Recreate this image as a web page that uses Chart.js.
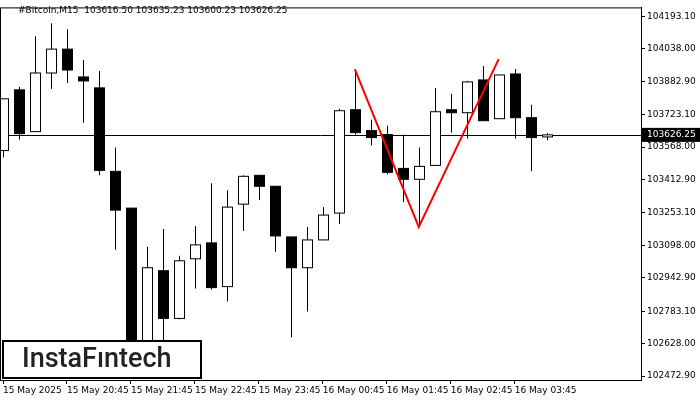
<!DOCTYPE html>
<html>
<head>
<meta charset="utf-8">
<script src="https://cdn.jsdelivr.net/npm/chart.js@4/dist/chart.umd.min.js"></script>
<style>
  body { margin: 0; background: #fff; }
</style>
</head>
<body>
<canvas id="grafico" width="700" height="400"></canvas>
<script>
// =====================
// DATOS (OHLC)
// =====================
const opens  = [103551.6, 103841.5, 103641.9, 103922.2, 104036.3, 103903.2, 103851.0, 103451.8, 103276.0, 102572.7,
                102976.6, 102748.5, 103033.6, 103109.6, 102900.6, 103295.0, 103432.8, 103380.5, 103138.2, 102990.8,
                103123.9, 103252.2, 103746.4, 103646.6, 103627.6, 103466.0, 103413.8, 103480.3, 103746.4, 103732.2,
                103889.0, 103703.6, 103917.5, 103708.4, 103616.5];
const highs  = [103798.7, 103855.7, 104098.0, 104159.8, 104131.3, 103984.0, 103931.7, 103565.8, 103276.0, 103090.6,
                103176.2, 103047.9, 103190.4, 103394.8, 103361.5, 103432.8, 103432.8, 103380.5, 103138.2, 103185.7,
                103280.7, 103751.2, 103941.2, 103698.9, 103670.4, 103627.6, 103565.8, 103851.0, 103822.4, 103884.2,
                103955.5, 103912.7, 103941.2, 103770.2, 103635.23];
const lows   = [103518.3, 103603.9, 103641.9, 103846.2, 103874.7, 103684.6, 103432.8, 103076.4, 102477.6, 102501.4,
                102620.2, 102743.7, 102891.1, 102886.3, 102829.3, 103166.7, 103314.0, 103066.9, 102658.2, 102781.8,
                103166.7, 103199.9, 103627.6, 103575.3, 103437.5, 103304.5, 103185.7, 103480.3, 103637.1, 103608.6,
                103694.1, 103703.6, 103608.6, 103451.8, 103600.23];
const closes = [103798.7, 103632.4, 103922.2, 104036.3, 103936.5, 103884.2, 103456.5, 103266.5, 102525.1, 102990.8,
                102748.5, 103024.1, 103100.1, 102895.8, 103280.7, 103428.0, 103380.5, 103142.9, 102990.8, 103123.9,
                103242.7, 103741.7, 103637.1, 103613.4, 103447.0, 103413.8, 103475.5, 103736.9, 103732.2, 103879.5,
                103694.1, 103912.7, 103708.4, 103613.4, 103626.25];

const fechas = ["15 May 2025", "15 May 20:45", "15 May 21:45", "15 May 22:45", "15 May 23:45",
                "16 May 00:45", "16 May 01:45", "16 May 02:45", "16 May 03:45"];
const fechaIdx = [0, 4, 8, 12, 16, 20, 24, 28, 32];

const precios = [104193.10, 104038.00, 103882.90, 103723.10, 103568.00, 103412.90,
                 103253.10, 103098.00, 102942.90, 102783.10, 102628.00, 102472.90];

// patrón doble techo (línea roja)
const patronX = [22, 26, 31];
const patronY = [103941.2, 103185.7, 103988.8];

const precioActual = 103626.25;
const titulo = "#Bitcoin,M15  103616.50 103635.23 103600.23 103626.25";

const FAM = "'DejaVu Sans', sans-serif";
const FONT = "9px " + FAM;

// =====================
// PLUGIN VELAS
// =====================
const velas = {
  id: "velas",
  beforeDatasetsDraw(chart) {
    const { ctx, scales: { x, y }, chartArea: a } = chart;
    ctx.save();
    ctx.beginPath();
    ctx.rect(a.left, a.top, a.right - a.left, a.bottom - a.top);
    ctx.clip();

    // línea de precio actual
    const py = Math.round(y.getPixelForValue(precioActual)) + 0.5;
    ctx.strokeStyle = "#000";
    ctx.lineWidth = 1;
    ctx.beginPath();
    ctx.moveTo(a.left, py);
    ctx.lineTo(a.right, py);
    ctx.stroke();

    opens.forEach((o, i) => {
      const cx = Math.round(x.getPixelForValue(i)) + 0.5;
      const yo = y.getPixelForValue(o), yc = y.getPixelForValue(closes[i]);
      const yh = y.getPixelForValue(highs[i]), yl = y.getPixelForValue(lows[i]);
      ctx.beginPath();
      ctx.moveTo(cx, yh);
      ctx.lineTo(cx, yl);
      ctx.stroke();
      const top = Math.min(yo, yc), h = Math.max(Math.abs(yo - yc), 1);
      ctx.fillStyle = closes[i] >= o ? "#fff" : "#000";
      ctx.fillRect(cx - 5, top, 10, h);
      ctx.strokeRect(cx - 5, top, 10, h);
    });
    ctx.restore();
  },
  afterDraw(chart) {
    const { ctx, scales: { y }, chartArea: a } = chart;
    ctx.save();
    ctx.strokeStyle = "#000";
    ctx.lineWidth = 1;
    ctx.strokeRect(a.left + 0.5, a.top + 0.5, a.right - a.left, a.bottom - a.top);

    ctx.font = FONT;
    ctx.fillStyle = "#000";
    ctx.textBaseline = "middle";
    ctx.fillText(titulo, 18, 11);

    // etiqueta precio actual
    const py = y.getPixelForValue(precioActual);
    ctx.fillRect(a.right + 1, py - 7, 58, 14);
    ctx.fillStyle = "#fff";
    ctx.fillText(precioActual.toFixed(2), a.right + 6, py);

    // logo
    ctx.fillStyle = "#fff";
    ctx.fillRect(3, 341, 198, 37);
    ctx.lineWidth = 2;
    ctx.strokeRect(3, 341, 198, 37);
    ctx.fillStyle = "#222";
    ctx.font = "500 27px Roboto, sans-serif";
    ctx.fillText("InstaFıntech", 22, 360);
    ctx.restore();
  }
};

// =====================
// GRÁFICO
// =====================
new Chart(document.getElementById("grafico"), {
  type: "line",
  data: {
    datasets: [{
      data: patronX.map((v, i) => ({ x: v, y: patronY[i] })),
      borderColor: "#ff0000",
      borderWidth: 2,
      pointRadius: 0,
      tension: 0
    }]
  },
  options: {
    responsive: false,
    animation: false,
    devicePixelRatio: 1,
    layout: { padding: { top: 5, left: 0, right: 0, bottom: 0 } },
    plugins: { legend: { display: false }, tooltip: { enabled: false } },
    scales: {
      x: {
        type: "linear",
        min: -0.19,
        max: 39.9,
        grid: { drawOnChartArea: false, tickLength: 4, color: "#000" },
        border: { color: "#000" },
        afterBuildTicks: ax => { ax.ticks = fechaIdx.map(v => ({ value: v })); },
        afterFit: ax => { ax.height = 20; },
        ticks: {
          color: "#000",
          font: { family: FAM, size: 9 },
          maxRotation: 0,
          align: "start",
          padding: 1,
          autoSkip: false,
          callback: v => fechas[fechaIdx.indexOf(v)]
        }
      },
      y: {
        position: "right",
        min: 102453.9,
        max: 104235.9,
        grid: { drawOnChartArea: false, tickLength: 4, color: "#000" },
        border: { color: "#000" },
        afterBuildTicks: ax => { ax.ticks = precios.map(v => ({ value: v })); },
        afterFit: ax => { ax.width = 59; },
        ticks: {
          color: "#000",
          font: { family: FAM, size: 9 },
          padding: 2,
          callback: v => v.toFixed(2)
        }
      }
    }
  },
  plugins: [velas]
});
</script>
</body>
</html>
